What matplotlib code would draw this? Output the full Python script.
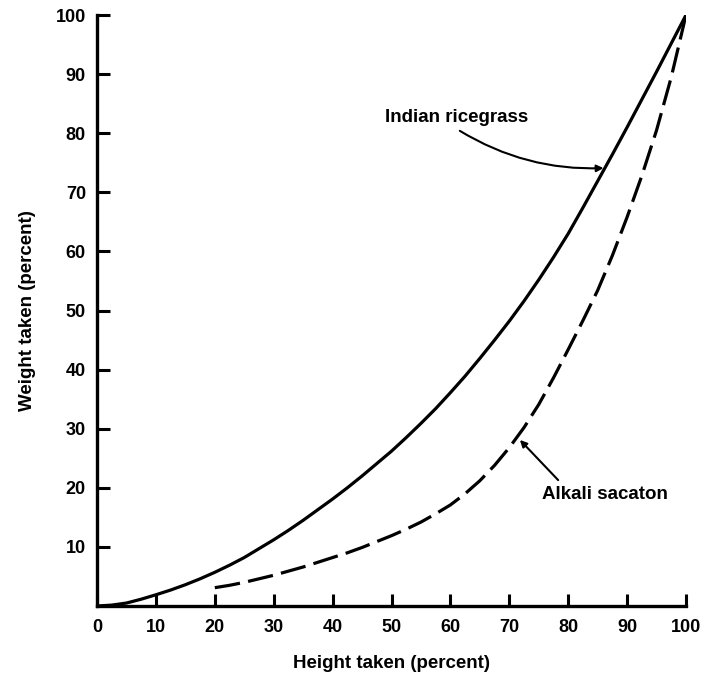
import matplotlib
matplotlib.use("Agg")
import matplotlib.pyplot as plt

# Data (percent)
rice_x = [0, 2.5, 5, 7.5, 10, 12.5, 15, 17.5, 20, 22.5, 25, 27.5, 30, 32.5, 35, 37.5,
          40, 42.5, 45, 47.5, 50, 52.5, 55, 57.5, 60, 62.5, 65, 67.5, 70, 72.5, 75,
          77.5, 80, 82.5, 85, 87.5, 90, 92.5, 95, 97.5, 100]
rice_y = [0, 0.15, 0.5, 1.15, 1.9, 2.7, 3.6, 4.6, 5.7, 6.9, 8.2, 9.7, 11.2, 12.8, 14.5, 16.3,
          18.1, 20.0, 22.0, 24.1, 26.2, 28.5, 30.9, 33.4, 36.1, 38.9, 41.9, 45.0, 48.2, 51.6, 55.2,
          59.0, 63.0, 67.4, 71.9, 76.4, 81.0, 85.7, 90.4, 95.2, 100]

saca_x = [20, 22.5, 25, 27.5, 30, 32.5, 35, 37.5, 40, 42.5, 45, 47.5, 50, 52.5, 55, 57.5,
          60, 62.5, 65, 67.5, 70, 72.5, 75, 77.5, 80, 82.5, 85, 87.5, 90, 92.5, 95, 97.5, 100]
saca_y = [3.1, 3.5, 4.0, 4.6, 5.2, 5.9, 6.6, 7.4, 8.2, 9.0, 9.9, 10.9, 11.9, 13.0, 14.2, 15.6,
          17.1, 19.0, 21.2, 23.8, 26.8, 30.2, 34.1, 38.6, 43.4, 48.3, 53.4, 59.3, 65.8, 72.8, 80.5, 89.5, 100]

x_ticks = [0, 10, 20, 30, 40, 50, 60, 70, 80, 90, 100]
y_ticks = [10, 20, 30, 40, 50, 60, 70, 80, 90, 100]

plt.rcParams['font.family'] = ['Liberation Sans', 'DejaVu Sans']

fig = plt.figure(figsize=(7.15, 6.83), dpi=100)
ax = fig.add_axes([97/715, 1 - 606/683, (686-97)/715, (606-15)/683])

ax.plot(rice_x, rice_y, color='black', lw=2.3, solid_capstyle='butt', solid_joinstyle='round')
ax.plot(saca_x, saca_y, color='black', lw=2.3, dashes=(8, 2.6), dash_capstyle='butt')

ax.set_xlim(0, 100)
ax.set_ylim(0, 100)
ax.set_xticks(x_ticks)
ax.set_yticks(y_ticks)
ax.set_xticklabels([str(v) for v in x_ticks], fontsize=13, fontweight='bold')
ax.set_yticklabels([str(v) for v in y_ticks], fontsize=13, fontweight='bold')
ax.tick_params(axis='y', direction='in', length=9, width=2.2, pad=8)
ax.tick_params(axis='x', direction='in', length=8.5, width=2.2, pad=9)

for s in ['top', 'right']:
    ax.spines[s].set_visible(False)
for s in ['left', 'bottom']:
    ax.spines[s].set_linewidth(2.4)

ax.set_xlabel('Height taken (percent)', fontsize=13.5, fontweight='bold', labelpad=14)
ax.set_ylabel('Weight taken (percent)', fontsize=13.5, fontweight='bold', labelpad=14)

ax.text(48.9, 82.6, 'Indian ricegrass', fontsize=13.5, fontweight='bold',
        ha='left', va='center')
ax.annotate('', xy=(86.0, 74.1), xytext=(61.6, 80.4),
            arrowprops=dict(arrowstyle='-|>', color='black', lw=1.5,
                            connectionstyle='arc3,rad=0.15',
                            shrinkA=0, shrinkB=0, mutation_scale=10))

ax.text(75.5, 18.8, 'Alkali sacaton', fontsize=13.5, fontweight='bold',
        ha='left', va='center')
ax.annotate('', xy=(71.8, 28.1), xytext=(78.3, 21.3),
            arrowprops=dict(arrowstyle='-|>', color='black', lw=1.5,
                            shrinkA=0, shrinkB=0, mutation_scale=10))

fig.savefig('out.png', dpi=100)
